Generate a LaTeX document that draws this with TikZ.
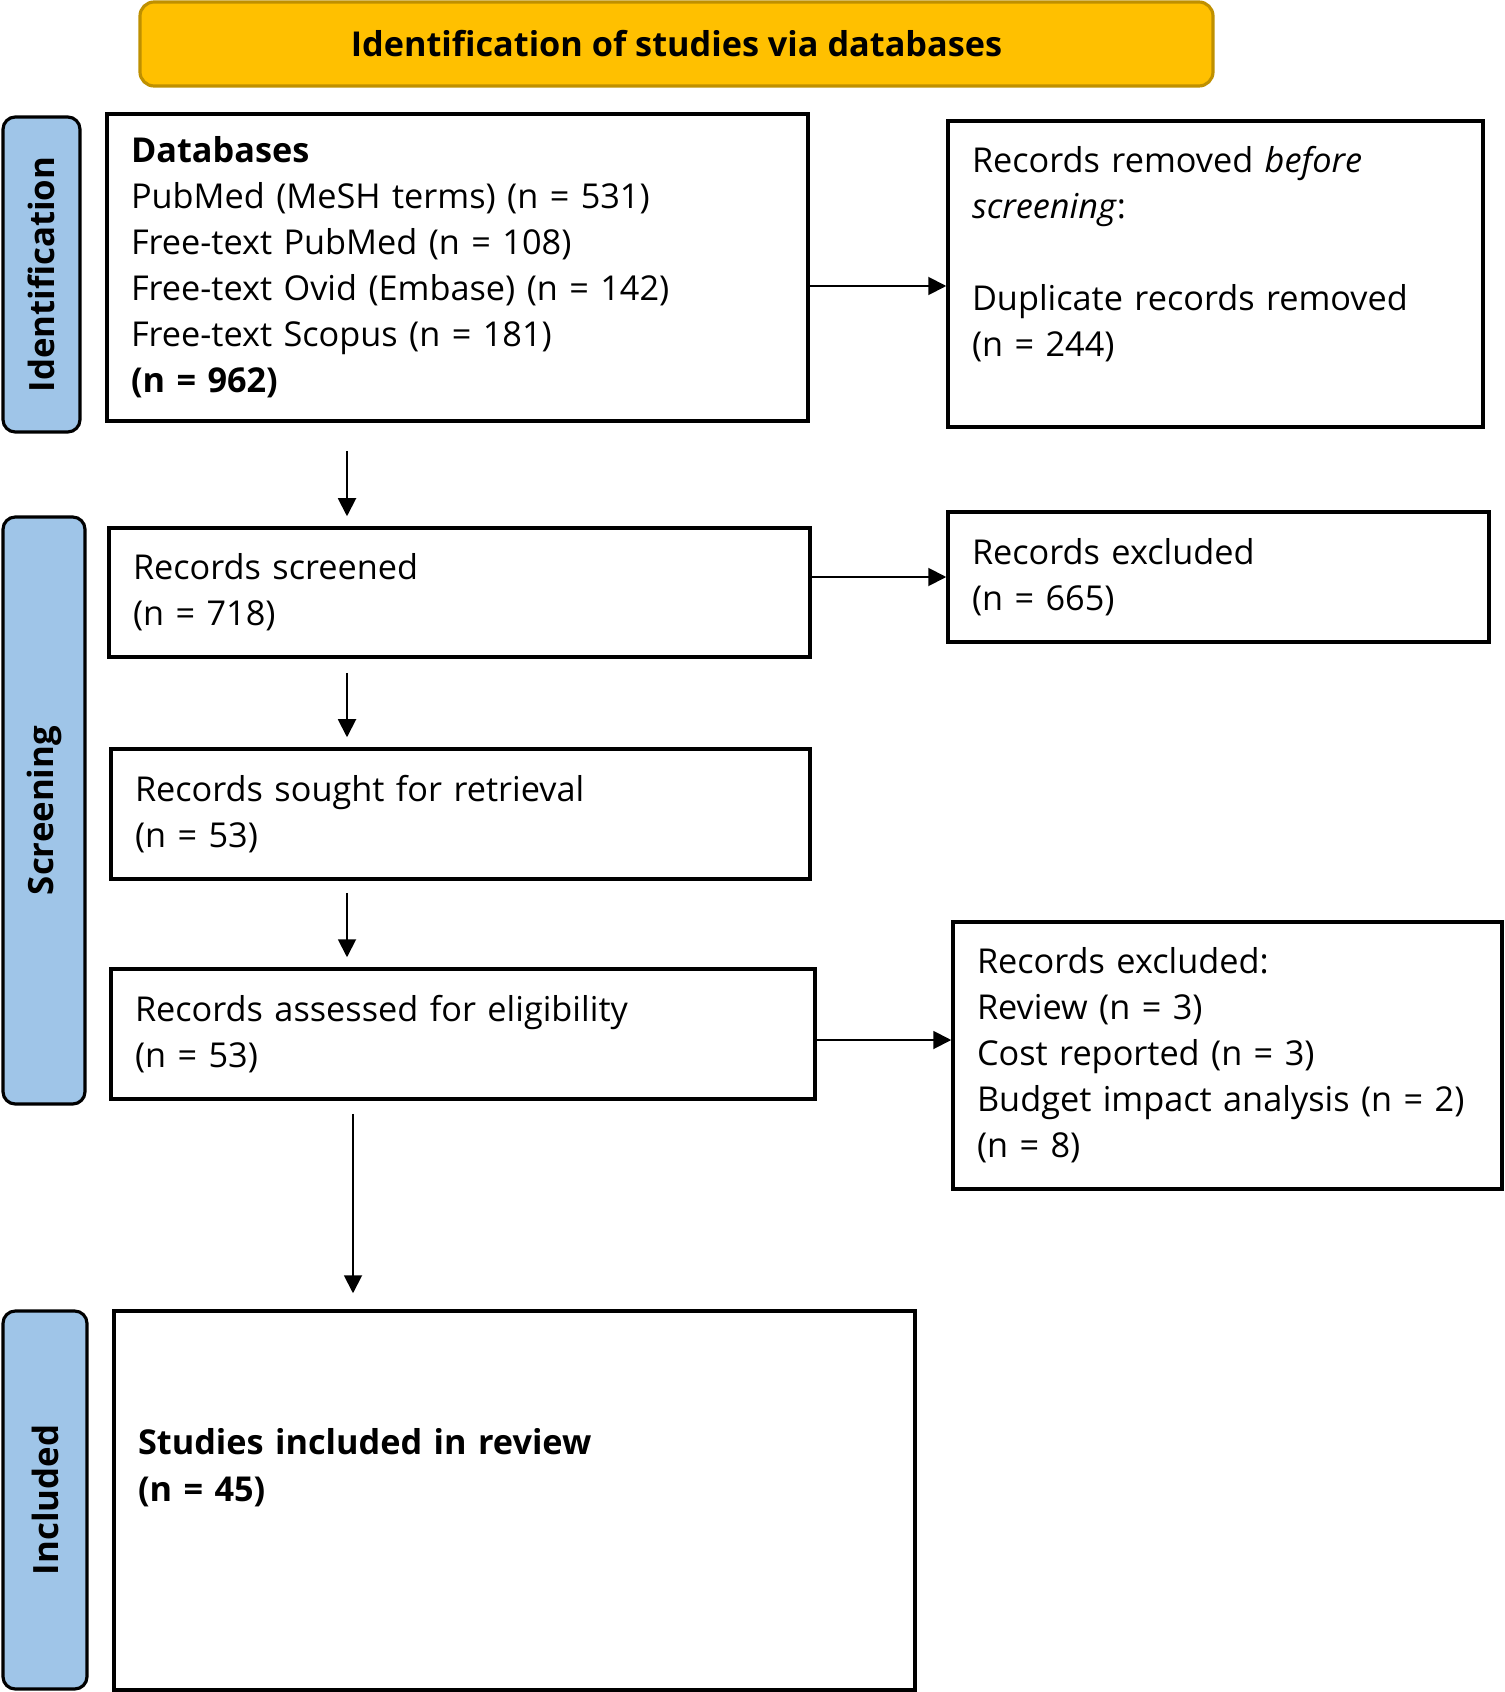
\documentclass[tikz,border=0pt]{standalone}
\usepackage{fontspec}
\setmainfont{Open Sans}
\usepackage{xcolor}
\definecolor{gold1}{HTML}{FFC000}
\definecolor{gold2}{HTML}{BF9000}
\definecolor{blue1}{HTML}{9FC5E8}
\usetikzlibrary{arrows.meta, positioning, calc}

\begin{document}
\begin{tikzpicture}[
  font        = \fontsize{19.5}{26.2}\selectfont,
  head/.style = {draw=gold2, fill=gold1, rounded corners=8pt, line width=1.8pt,
                 minimum width=21.46cm, minimum height=1.68cm, font=\fontsize{19.5}{26.2}\selectfont\bfseries},
  phase/.style= {draw=black, fill=blue1, rounded corners=7pt, line width=1.8pt,
                 font=\fontsize{19.8}{24}\selectfont\bfseries, rotate=90},
  box/.style  = {draw=black, line width=2pt, align=left, inner xsep=0.48cm,
                 text width=#1, minimum height=2.6cm},
  arr/.style  = {-{Triangle[length=0.36cm, width=0.36cm]}, line width=1.1pt}
]
\useasboundingbox (0,0) rectangle (30.08,-33.84);

% -- header --------------------------------------------------
\node[head] (title) at (13.53,-0.88) {Identification of studies via databases};

% -- phase bars ----------------------------------------------
\node[phase, minimum width=6.30cm, minimum height=1.54cm] (pid)  at (0.83,-5.49)  {Identification};
\node[phase, minimum width=11.74cm, minimum height=1.64cm] (pscr) at (0.88,-16.21) {Screening};
\node[phase, minimum width=7.56cm, minimum height=1.68cm] (pinc) at (0.90,-30.00) {Included};

% -- left column ---------------------------------------------
\node[box=13.06cm, minimum height=6.14cm] (db) at (9.15,-5.35)
  {\textbf{Databases}\\
   PubMed (MeSH terms) (n = 531)\\
   Free-text PubMed (n = 108)\\
   Free-text Ovid (Embase) (n = 142)\\
   Free-text Scopus (n = 181)\\
   \textbf{(n = 962)}};
\node[box=13.06cm, minimum height=2.58cm] (scr) at (9.19,-11.85)
  {Records screened\\(n = 718)};
\node[box=13.02cm] (sgt) at (9.21,-16.28)
  {Records sought for retrieval\\(n = 53)};
\node[box=13.12cm] (asd) at (9.26,-20.68)
  {Records assessed for eligibility\\(n = 53)};
\node[box=15.06cm, minimum height=7.58cm] (inc) at (10.29,-30.01)
  {\textbf{Studies included in review}\\
   \textbf{(n = 45)}\\[0.5cm]~};

% -- right column --------------------------------------------
\node[box=9.74cm, minimum height=6.12cm] (rem) at (24.31,-5.48)
  {Records removed \emph{before}\\
   \emph{screening}:\\[0.92cm]
   Duplicate records removed\\
   (n = 244)\\~};
\node[box=9.86cm] (ex1) at (24.37,-11.54)
  {Records excluded\\(n = 665)};
\node[box=10.02cm, minimum height=5.34cm] (ex2) at (24.55,-21.11)
  {Records excluded:\\
   Review (n = 3)\\
   Cost reported (n = 3)\\
   Budget impact analysis (n = 2)\\
   (n = 8)};

% -- arrows --------------------------------------------------
\draw[arr, shorten <=0.56cm, shorten >=0.2cm] (db.south -| 6.94,0) -- (scr.north -| 6.94,0);
\draw[arr, shorten <=0.28cm, shorten >=0.2cm] (scr.south -| 6.94,0) -- (sgt.north -| 6.94,0);
\draw[arr, shorten <=0.24cm, shorten >=0.2cm] (sgt.south -| 6.94,0) -- (asd.north -| 6.94,0);
\draw[arr, shorten <=0.26cm, shorten >=0.32cm] (asd.south -| 7.06,0) -- (inc.north -| 7.06,0);

\draw[arr] ([yshift=-0.37cm]db.east) -- ([yshift=-0.37cm]db.east -| rem.west);
\draw[arr] (scr.east |- ex1.west) -- (ex1.west);
\draw[arr] ([yshift=-0.12cm]asd.east) -- ([yshift=-0.12cm]asd.east -| ex2.west);

\end{tikzpicture}
\end{document}
